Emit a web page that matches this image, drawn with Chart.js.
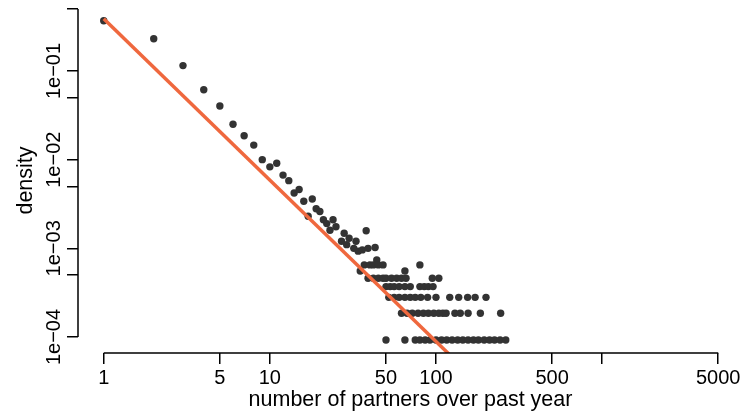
<!DOCTYPE html>
<html>
<head>
<meta charset="utf-8">
<script src="https://cdn.jsdelivr.net/npm/chart.js@4/dist/chart.umd.min.js"></script>
<style>
  html, body { margin: 0; padding: 0; background: #fff; }
</style>
</head>
<body>
<canvas id="chart" width="747" height="414"></canvas>
<script>
// single points for small partner counts
const partnersHead = [1, 2, 3, 4, 5, 6, 7, 8, 9, 10, 11, 12, 13, 14, 15, 16, 17, 18, 19, 20,
  21, 22, 23, 24, 25, 27, 28, 29, 30, 32, 33, 34, 36, 38, 39, 43, 44];
const densityHead = [0.369, 0.231, 0.115, 0.0615, 0.0403, 0.0251, 0.0186, 0.0146, 0.0100, 0.0083,
  0.0091, 0.0067, 0.0058, 0.0042, 0.0046, 0.0034, 0.0023, 0.0036, 0.0028, 0.0026,
  0.0021, 0.0019, 0.0016, 0.0021, 0.00175, 0.0012, 0.00148, 0.0011, 0.0013, 0.0010,
  0.0012, 0.00093, 0.00096, 0.00158, 0.0010, 0.00102, 0.00074];

// tail: density levels (1..7 respondents) and the partner counts at each level
const tailDensity = [0.00065, 0.000555, 0.00046, 0.00037, 0.00028, 0.000185, 0.0000925];
const tailPartners = [
  [37, 40, 42, 45, 48, 80],
  [35, 65],
  [39, 42, 45, 48, 50, 54, 58, 62, 66, 95, 104],
  [50, 53, 56, 60, 65, 70, 80, 85, 90, 96],
  [52, 56, 60, 65, 70, 75, 81, 89, 100, 121, 137, 155, 172, 200],
  [62, 67, 72, 78, 84, 90, 97, 104, 110, 115, 130, 140, 156, 185, 245],
  [50, 65, 75, 80, 86, 92, 100, 108, 116, 125, 135, 145, 156, 168, 180, 195, 210, 225, 243, 263]
];

// fitted power law line
const fitPartners = [1, 200];
const fitDensity = [0.389, 0.0000252];

const xTicks = [1, 5, 10, 50, 100, 500, 1000, 5000];
const xTickLabels = ['1', '5', '10', '50', '100', '500', '', '5000'];
const yTicks = [0.0001, 0.0005, 0.001, 0.005, 0.01, 0.05, 0.1, 0.5];
const yTickLabels = ['1e\u221204', '', '1e\u221203', '', '1e\u221202', '', '1e\u221201', ''];

const FONT = 'Liberation Sans, Arial, sans-serif';

const points = partnersHead.map((x, i) => ({ x: x, y: densityHead[i] }));
tailPartners.forEach((row, r) => {
  row.forEach(x => points.push({ x: x, y: tailDensity[r] }));
});
const fitLine = fitPartners.map((x, i) => ({ x: x, y: fitDensity[i] }));

// R style axes: line only between first and last tick, rotated y labels
const rAxes = {
  id: 'rAxes',
  afterDraw(chart) {
    const { ctx, chartArea, scales } = chart;
    const xs = scales.x, ys = scales.y;
    ctx.save();
    ctx.strokeStyle = '#000';
    ctx.lineWidth = 1.5;
    ctx.beginPath();
    ctx.moveTo(xs.getPixelForValue(xTicks[0]), chartArea.bottom);
    ctx.lineTo(xs.getPixelForValue(xTicks[xTicks.length - 1]), chartArea.bottom);
    ctx.moveTo(chartArea.left, ys.getPixelForValue(yTicks[0]));
    ctx.lineTo(chartArea.left, ys.getPixelForValue(yTicks[yTicks.length - 1]));
    ctx.stroke();

    ctx.fillStyle = '#000';
    ctx.font = '20px ' + FONT;
    ctx.textAlign = 'center';
    ctx.textBaseline = 'middle';
    yTicks.forEach((v, i) => {
      if (!yTickLabels[i]) return;
      ctx.save();
      ctx.translate(54, ys.getPixelForValue(v));
      ctx.rotate(-Math.PI / 2);
      ctx.fillText(yTickLabels[i], 0, 0);
      ctx.restore();
    });
    ctx.restore();
  }
};

new Chart(document.getElementById('chart'), {
  type: 'scatter',
  data: {
    datasets: [
      {
        type: 'line',
        data: fitLine,
        borderColor: 'rgb(239,104,62)',
        borderWidth: 3.5,
        pointRadius: 0,
        fill: false,
        order: 0
      },
      {
        data: points,
        backgroundColor: '#333333',
        borderWidth: 0,
        pointRadius: 3.7,
        order: 1
      }
    ]
  },
  options: {
    responsive: false,
    animation: false,
    devicePixelRatio: 1,
    layout: { padding: { top: 8, right: 0, bottom: 0, left: 0 } },
    plugins: {
      legend: { display: false },
      tooltip: { enabled: false }
    },
    scales: {
      x: {
        type: 'logarithmic',
        min: 0.7088,
        max: 7047,
        afterBuildTicks: s => { s.ticks = xTicks.map(v => ({ value: v })); },
        afterFit: s => { s.height = 61; },
        border: { display: false },
        grid: { drawOnChartArea: false, drawTicks: true, tickLength: 11, color: '#000', lineWidth: 1.5 },
        ticks: {
          autoSkip: false,
          maxRotation: 0,
          minRotation: 0,
          padding: 2,
          color: '#000',
          font: { family: FONT, size: 20 },
          callback: (v, i) => xTickLabels[i]
        },
        title: {
          display: true,
          text: 'number of partners over past year',
          color: '#000',
          font: { family: FONT, size: 21.5 },
          padding: { top: 0, bottom: 1 }
        }
      },
      y: {
        type: 'logarithmic',
        min: 0.0000660,
        max: 0.5134,
        afterBuildTicks: s => { s.ticks = yTicks.map(v => ({ value: v })); },
        afterFit: s => { s.width = 78; },
        border: { display: false },
        grid: { drawOnChartArea: false, drawTicks: true, tickLength: 11, color: '#000', lineWidth: 1.5 },
        ticks: { display: false },
        title: {
          display: true,
          text: 'density',
          color: '#000',
          font: { family: FONT, size: 21.5 },
          padding: { top: 13, bottom: 0 }
        }
      }
    }
  },
  plugins: [rAxes]
});
</script>
</body>
</html>
